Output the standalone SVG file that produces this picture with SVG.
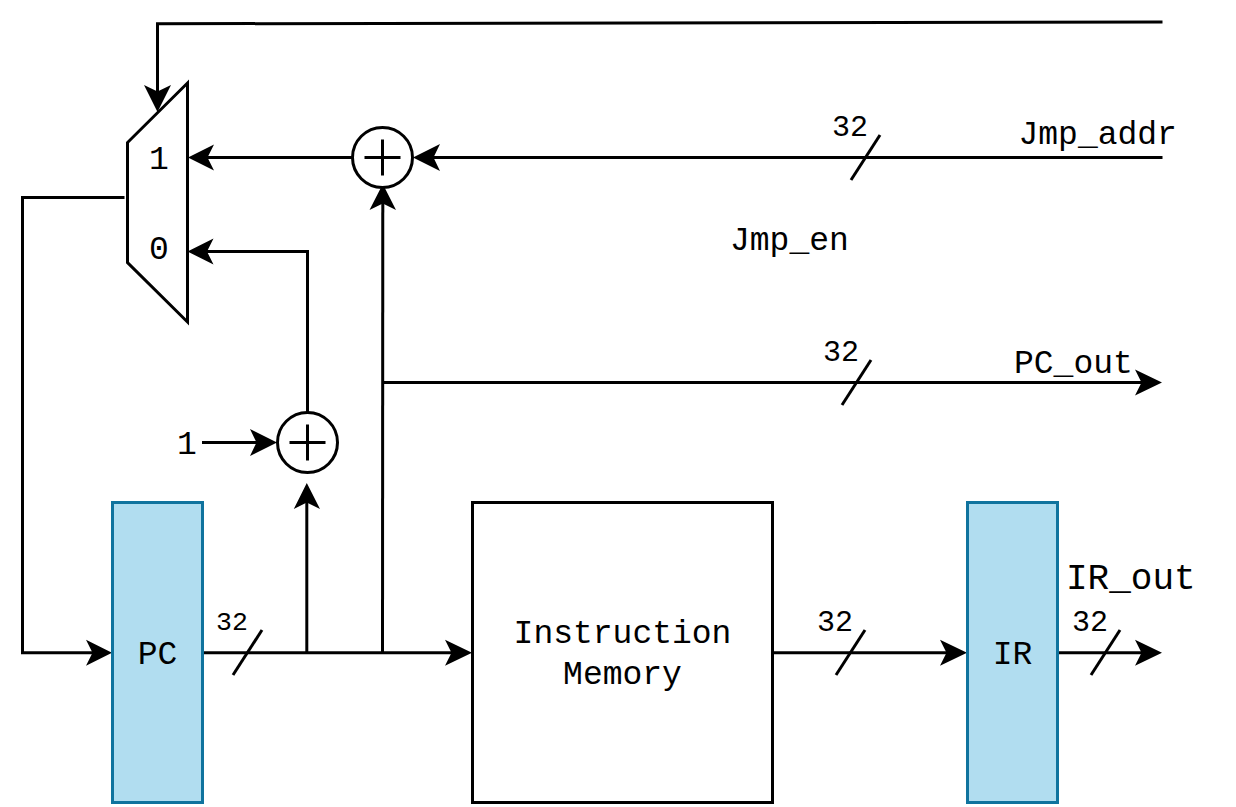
<svg xmlns="http://www.w3.org/2000/svg" width="1236" height="807" viewBox="0 0 1236 807">
<style>
.c{fill:none;stroke:#000;stroke-width:3}
.b{fill:#b1ddf0;stroke:#10739e;stroke-width:3}
.n{fill:#fff;stroke:#000;stroke-width:3}
.o{fill:none;stroke:#000;stroke-width:3}
text{font-family:"Liberation Mono",monospace;fill:#000}
.m{font-size:33px}
.s{font-size:30px}
.t{font-size:26.5px}
.mid{text-anchor:middle}
</style>
<rect width="1236" height="807" fill="#fff"/>
<g id="connectors">
<path class="c" d="M1162.500 22 L157.500 23.800 L157.500 107"/>
<path class="c" d="M1162.500 157.500 L419 157.500"/>
<path class="c" d="M352 157.500 L194 157.500"/>
<path class="c" d="M382.500 652 L382.800 190"/>
<path class="c" d="M307.500 412 L307.500 251.500 L193.500 251.500"/>
<path class="c" d="M124.500 197.500 L22.500 197.500 L22.500 652.800 L106 652.800"/>
<path class="c" d="M202 442.500 L271 442.500"/>
<path class="c" d="M306.800 652.500 L306.800 489"/>
<path class="c" d="M203 652.800 L466 652.800"/>
<path class="c" d="M382.500 382.500 L1156 382.500"/>
<path class="c" d="M773 652.800 L961 652.800"/>
<path class="c" d="M1058 652.800 L1156 652.800"/>
<g fill="#000">
<path d="M157.500 112 L144 85 L157.500 91.500 L171 85 Z"/>
<path d="M413 157.500 L440 144 L433.500 157.500 L440 171 Z"/>
<path d="M188 157.500 L214 144.500 L207.500 157.500 L214 170.500 Z"/>
<path d="M382.800 184 L369.500 210 L382.800 203.500 L396 210 Z"/>
<path d="M187.500 251.500 L213.500 238.500 L207 251.500 L213.500 264.500 Z"/>
<path d="M112 652.800 L86 639.800 L92.500 652.800 L86 665.800 Z"/>
<path d="M277 442.500 L250 429 L256.500 442.500 L250 456 Z"/>
<path d="M306.800 483 L293.800 509 L306.800 502.500 L320 509 Z"/>
<path d="M472 652.800 L445 639.800 L451.500 652.800 L445 665.800 Z"/>
<path d="M1162 382.500 L1135 369.500 L1141.500 382.500 L1135 395.500 Z"/>
<path d="M967 652.800 L940 639.800 L946.500 652.800 L940 665.800 Z"/>
<path d="M1162 652.800 L1135 639.800 L1141.500 652.800 L1135 665.800 Z"/>
</g>
<path class="c" d="M851 180 L880 135"/>
<path class="c" d="M842 405 L871 360"/>
<path class="c" d="M233 675 L262 630"/>
<path class="c" d="M836 675 L865 630"/>
<path class="c" d="M1091 675 L1120 630"/>
</g>
<g id="mux">
<path class="o" d="M187.500 83 L187.500 322 L127.500 262.500 L127.500 142.500 Z"/>
<text class="m mid" x="159" y="169">1</text>
<text class="m mid" x="159" y="259">0</text>
</g>
<g id="adder-jump">
<circle class="n" cx="382.500" cy="157.500" r="30"/>
<path class="o" d="M364.500 157.500 H400.500 M382.500 139.500 V175.500"/>
</g>
<g id="adder-pc">
<circle class="n" cx="307.500" cy="442.500" r="30"/>
<path class="o" d="M289.500 442.500 H325.500 M307.500 424.500 V460.500"/>
</g>
<g id="pc">
<rect class="b" x="112.500" y="502.500" width="90" height="300"/>
<text class="m mid" x="157.500" y="663.500">PC</text>
</g>
<g id="instruction-memory">
<rect class="n" x="472.500" y="502.500" width="300" height="300"/>
<text class="m mid" x="622.500" y="643">Instruction</text>
<text class="m mid" x="622.500" y="684">Memory</text>
</g>
<g id="ir">
<rect class="b" x="967.500" y="502.500" width="90" height="300"/>
<text class="m mid" x="1012.500" y="663.500">IR</text>
</g>
<g id="labels">
<text class="m" x="1018.500" y="144">Jmp_addr</text>
<text class="m" x="730" y="249.500">Jmp_en</text>
<text class="m" x="1014" y="372.500">PC_out</text>
<text x="1066" y="589" style="font-size:36px">IR_out</text>
<text class="m" x="177" y="454">1</text>
<text class="s" x="832" y="136">32</text>
<text class="s" x="823" y="361">32</text>
<text class="t" x="216" y="630">32</text>
<text class="s" x="817" y="631">32</text>
<text class="s" x="1072" y="631">32</text>
</g>
</svg>
